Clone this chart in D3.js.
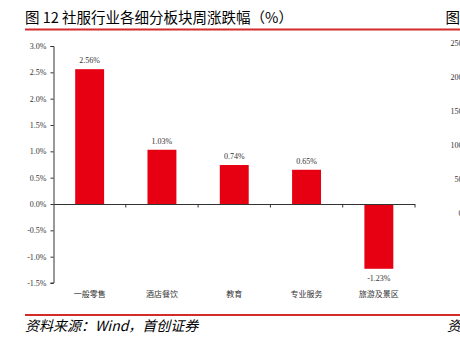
<!DOCTYPE html>
<html><head><meta charset="utf-8">
<script src="https://cdn.jsdelivr.net/npm/d3@7"></script>
<style>
html,body{margin:0;padding:0;background:#fff;overflow:hidden;}
svg{display:block;}
</style></head>
<body>
<script>
const categories = ["一般零售", "酒店餐饮", "教育", "专业服务", "旅游及景区"];
const values = [2.56, 1.03, 0.74, 0.65, -1.23];
const yTicks = [-1.5, -1.0, -0.5, 0.0, 0.5, 1.0, 1.5, 2.0, 2.5, 3.0];
const rightTicks = [0, 50, 100, 150, 200, 250];
const titleText = "图 12 社服行业各细分板块周涨跌幅（%）";
const sourceText = "资料来源：Wind，首创证券";

const W = 460, H = 338;
const svg = d3.select("body").append("svg").attr("width", W).attr("height", H);

// Title
svg.append("text").attr("x", 25).attr("y", 22.5)
  .attr("font-family", "'Noto Sans CJK SC', sans-serif").attr("font-size", 14.5)
  .attr("fill", "#000").text(titleText);
// Right partial title
svg.append("text").attr("x", 445.5).attr("y", 22.5)
  .attr("font-family", "'Noto Sans CJK SC', sans-serif").attr("font-size", 14.5)
  .attr("fill", "#000").text("图");

// Top & bottom red rules
[29.5, 315].forEach(y => {
  svg.append("line").attr("x1", 25).attr("x2", W).attr("y1", y).attr("y2", y)
    .attr("stroke", "#d42a2a").attr("stroke-width", 2.2);
});

// Scales
const x = d3.scaleBand().domain(categories).range([53.5, 415]).paddingInner(0.6).paddingOuter(0.3);
const y = d3.scaleLinear().domain([-1.5, 3.0]).range([283, 46]);

const serif = "'Liberation Serif', 'Times New Roman', serif";

// Bars
svg.append("g").selectAll("rect").data(values).join("rect")
  .attr("x", (d, i) => x(categories[i]))
  .attr("width", x.bandwidth())
  .attr("y", d => y(Math.max(0, d)))
  .attr("height", d => Math.abs(y(d) - y(0)))
  .attr("fill", "#e60012");

// Y axis
const yAxis = d3.axisLeft(y).tickValues(yTicks).tickSize(3).tickPadding(4)
  .tickFormat(d => d.toFixed(1) + "%");
const gy = svg.append("g").attr("transform", "translate(53.5,0)").call(yAxis);
gy.select(".domain").attr("stroke", "#333").attr("d", "M-3,46.5H0.5V283H-3");
gy.selectAll(".tick line").attr("stroke", "#333");
gy.selectAll(".tick text").attr("font-family", serif).attr("font-size", 8).attr("fill", "#333");

// X axis at zero with ticks between categories
const step = x.step();
const boundaries = categories.map((c, i) => x(c) + x.bandwidth() / 2 + step / 2);
const gx = svg.append("g");
gx.append("line").attr("x1", 53.5).attr("x2", 415).attr("y1", y(0) + 0.5).attr("y2", y(0) + 0.5)
  .attr("stroke", "#333").attr("stroke-width", 1);
gx.selectAll("line.tk").data(boundaries).join("line").attr("class", "tk")
  .attr("x1", d => d).attr("x2", d => d).attr("y1", y(0)).attr("y2", y(0) + 3.5)
  .attr("stroke", "#333");

// Category labels
svg.append("g").selectAll("text").data(categories).join("text")
  .attr("x", d => x(d) + x.bandwidth() / 2).attr("y", 296.5)
  .attr("text-anchor", "middle")
  .attr("font-family", "'Noto Sans CJK SC', sans-serif").attr("font-size", 8)
  .attr("fill", "#333").text(d => d);

// Value labels
svg.append("g").selectAll("text").data(values).join("text")
  .attr("x", (d, i) => x(categories[i]) + x.bandwidth() / 2)
  .attr("y", d => d >= 0 ? y(d) - 6 : y(d) + 12)
  .attr("text-anchor", "middle")
  .attr("font-family", serif).attr("font-size", 8).attr("fill", "#333")
  .text(d => d.toFixed(2) + "%");

// Right partial chart tick labels (cut off by the page edge, as in the reference)
const yr = d3.scaleLinear().domain([0, 250]).range([213, 43]);
svg.append("g").selectAll("text").data(rightTicks).join("text")
  .attr("x", 462.5).attr("y", d => yr(d) + 3)
  .attr("text-anchor", "end")
  .attr("font-family", serif).attr("font-size", 8).attr("fill", "#333")
  .text(d => d);

// Source
svg.append("text").attr("x", 25).attr("y", 331)
  .attr("font-family", "'Noto Sans CJK SC', sans-serif").attr("font-size", 14)
  .attr("font-style", "italic").attr("fill", "#000").text(sourceText);
svg.append("text").attr("x", 447).attr("y", 331)
  .attr("font-family", "'Noto Sans CJK SC', sans-serif").attr("font-size", 14)
  .attr("font-style", "italic").attr("fill", "#000").text("资");
</script>
</body></html>
